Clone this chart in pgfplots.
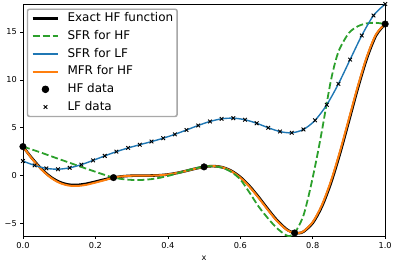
\documentclass[border=0pt]{standalone}
\usepackage{fontspec}
\setmainfont{DejaVu Sans}
\usepackage{pgfplots}
\pgfplotsset{compat=1.18}
\definecolor{tabblue}{HTML}{1F77B4}
\definecolor{taborange}{HTML}{FF7F0E}
\definecolor{tabgreen}{HTML}{2CA02C}
\definecolor{legedge}{HTML}{A8A8A8}
\begin{document}
\begin{tikzpicture}
\begin{axis}[
  scale only axis, width=363pt, height=232.7pt,
  xmin=0, xmax=1, ymin=-6.33, ymax=17.92,
  xtick={0,0.2,0.4,0.6,0.8,1}, xticklabels={0.0,0.2,0.4,0.6,0.8,1.0},
  ytick={-5,0,5,10,15}, yticklabels={−5,0,5,10,15},
  /pgf/number format/assume math mode=true,
  tick align=outside, tick pos=left, major tick length=2.7pt,
  every tick/.style={black, line width=0.6pt},
  axis line style={line width=0.6pt},
  tick label style={font=\fontsize{8.2}{10}\selectfont},
  xlabel={x}, xlabel style={font=\fontsize{8.2}{10}\selectfont, yshift=-1pt},
  legend image code/.code={\draw[mark repeat=2,mark phase=2,#1] plot coordinates {(0pt,0pt) (12.8pt,0pt) (25.6pt,0pt)};},
  legend cell align=left,
  legend style={name=leg, at={(axis description cs:0,1)}, anchor=north west, xshift=4.3pt, yshift=-5pt,
    draw=legedge, line width=0.9pt, rounded corners=2pt, fill=white,
    font=\fontsize{12}{14}\selectfont, inner xsep=3.7pt, inner ysep=3.6pt, row sep=6.4pt,
    nodes={inner sep=0pt, text height=8.8pt, text depth=2.5pt},
    /tikz/every odd column/.append style={column sep=8pt}},
]
\addlegendimage{black, line width=2.6pt}
\addlegendentry{Exact HF function}
\addlegendimage{tabgreen, line width=1.8pt, dash pattern=on 7pt off 3pt}
\addlegendentry{SFR for HF}
\addlegendimage{tabblue, line width=1.4pt}
\addlegendentry{SFR for LF}
\addlegendimage{taborange, line width=2pt}
\addlegendentry{MFR for HF}
\addlegendimage{only marks, mark=*, mark size=3.3pt, black}
\addlegendentry{HF data}
\addlegendimage{only marks, mark=x, mark size=2.6pt, black, line width=0.9pt}
\addlegendentry{LF data}

% Exact HF function
\addplot[black, line width=2.6pt, smooth, forget plot] coordinates {
(0,3.027) (0.025,1.813) (0.05,0.738) (0.075,-0.100) (0.1,-0.657) (0.125,-0.935)
(0.15,-0.978) (0.175,-0.854) (0.2,-0.640) (0.225,-0.407) (0.25,-0.210) (0.275,-0.079)
(0.3,-0.016) (0.325,0.000) (0.35,0.002) (0.375,0.030) (0.4,0.115) (0.425,0.270)
(0.45,0.483) (0.475,0.717) (0.5,0.909) (0.525,0.986) (0.55,0.871) (0.575,0.503)
(0.6,-0.149) (0.625,-1.074) (0.65,-2.209) (0.675,-3.439) (0.7,-4.606) (0.725,-5.522)
(0.7375,-5.822) (0.75,-5.993) (0.7625,-6.007) (0.775,-5.845) (0.8,-4.949) (0.825,-3.253)
(0.85,-0.799) (0.875,2.272) (0.9,5.712) (0.925,9.187) (0.95,12.303) (0.975,14.648) (1,15.830)
};
% MFR for HF
\addplot[taborange, line width=2pt, smooth, forget plot] coordinates {
(0,3.027) (0.025,1.76) (0.05,0.68) (0.075,-0.17) (0.1,-0.74) (0.125,-1.03)
(0.15,-1.08) (0.175,-0.96) (0.2,-0.73) (0.225,-0.48) (0.25,-0.210) (0.275,-0.079)
(0.3,-0.016) (0.325,0.000) (0.35,0.002) (0.375,0.030) (0.4,0.115) (0.425,0.270)
(0.45,0.483) (0.475,0.717) (0.5,0.909) (0.525,0.986) (0.55,0.865) (0.575,0.47)
(0.6,-0.21) (0.625,-1.15) (0.65,-2.30) (0.675,-3.53) (0.7,-4.69) (0.725,-5.58)
(0.7375,-5.85) (0.75,-6.00) (0.7625,-5.99) (0.775,-5.81) (0.8,-4.85) (0.825,-3.10)
(0.85,-0.60) (0.875,2.50) (0.9,5.95) (0.925,9.40) (0.95,12.48) (0.975,14.77) (1,15.830)
};
% SFR for HF
\addplot[tabgreen, line width=1.8pt, dash pattern=on 7pt off 3pt, smooth, forget plot] coordinates {
(0,3.03) (0.025,2.72) (0.05,2.40) (0.075,2.06) (0.1,1.72) (0.125,1.39) (0.15,1.05)
(0.175,0.72) (0.2,0.40) (0.225,0.08) (0.25,-0.21) (0.275,-0.37) (0.3,-0.45) (0.325,-0.46)
(0.35,-0.39) (0.375,-0.25) (0.4,-0.04) (0.425,0.22) (0.45,0.50) (0.475,0.75) (0.5,0.93)
(0.525,0.98) (0.55,0.82) (0.575,0.38) (0.6,-0.40) (0.625,-1.75) (0.65,-3.20) (0.675,-4.40)
(0.7,-5.45) (0.725,-6.20) (0.7375,-6.30) (0.75,-5.99) (0.7625,-5.2) (0.775,-4.1)
(0.7875,-2.3) (0.8,-0.2) (0.8125,2.1) (0.825,4.6) (0.8375,7.3) (0.85,9.9) (0.8625,11.9)
(0.875,13.3) (0.9,14.9) (0.925,15.6) (0.95,15.9) (0.975,15.95) (1,15.83)
};
% SFR for LF
\addplot[tabblue, line width=1.4pt, smooth, forget plot] coordinates {
(0,1.514) (0.03226,1.063) (0.06452,0.755) (0.09677,0.667) (0.12903,0.812) (0.16129,1.144)
(0.19355,1.586) (0.22581,2.058) (0.25806,2.501) (0.29032,2.887) (0.32258,3.226) (0.35484,3.550)
(0.38710,3.902) (0.41935,4.308) (0.45161,4.765) (0.48387,5.235) (0.51613,5.650) (0.54839,5.927)
(0.58065,5.997) (0.61290,5.831) (0.64516,5.463) (0.67742,4.995) (0.70968,4.596) (0.74194,4.468)
(0.77419,4.813) (0.80645,5.771) (0.83871,7.389) (0.87097,9.582) (0.90323,12.115) (0.93548,14.635)
(0.96774,16.713) (1,17.915)
};
% HF data
\addplot[only marks, mark=*, mark size=3.3pt, black, forget plot] coordinates {
(0,3.027) (0.25,-0.210) (0.5,0.909) (0.75,-5.993) (1,15.830)
};
% LF data
\addplot[only marks, mark=x, mark size=2.6pt, black, line width=0.9pt, forget plot] coordinates {
(0,1.514) (0.03226,1.063) (0.06452,0.755) (0.09677,0.667) (0.12903,0.812) (0.16129,1.144)
(0.19355,1.586) (0.22581,2.058) (0.25806,2.501) (0.29032,2.887) (0.32258,3.226) (0.35484,3.550)
(0.38710,3.902) (0.41935,4.308) (0.45161,4.765) (0.48387,5.235) (0.51613,5.650) (0.54839,5.927)
(0.58065,5.997) (0.61290,5.831) (0.64516,5.463) (0.67742,4.995) (0.70968,4.596) (0.74194,4.468)
(0.77419,4.813) (0.80645,5.771) (0.83871,7.389) (0.87097,9.582) (0.90323,12.115) (0.93548,14.635)
(0.96774,16.713) (1,17.915)
};
\end{axis}
\draw[legedge, line width=0.9pt, rounded corners=2pt] (leg.south west) rectangle (leg.north east);
\path (current axis.south west) ++(-23pt,-26.3pt) coordinate (bbl);
\path (current axis.north east) ++(9pt,4pt) coordinate (bbr);
\path (bbl) rectangle (bbr);
\end{tikzpicture}
\end{document}
